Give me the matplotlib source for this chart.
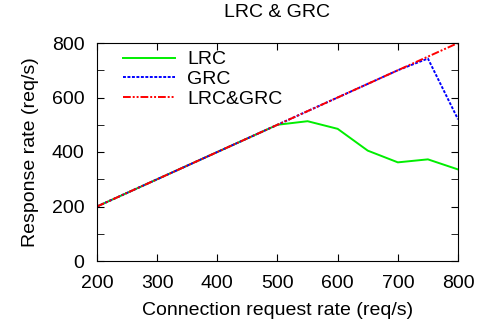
import matplotlib
matplotlib.use('Agg')
import matplotlib.pyplot as plt
from matplotlib.ticker import MultipleLocator

plt.rcParams['font.family'] = ['Liberation Sans', 'DejaVu Sans']

# donnees
taux_demande = [200, 250, 300, 350, 400, 450, 500, 550, 600, 650, 700, 750, 800]
lrc = [200, 250, 300, 350, 400, 450, 500, 513, 485, 405, 362, 373, 336]
grc = [200, 250, 300, 350, 400, 450, 500, 550, 600, 650, 700, 743, 520]
lrc_grc = [200, 250, 300, 350, 400, 450, 500, 550, 600, 650, 700, 750, 800]

fig = plt.figure(figsize=(4.85, 3.28), dpi=100)
ax = fig.add_axes([97 / 485, 67 / 328, 361 / 485, 218 / 328])

ax.plot(taux_demande, lrc, color='#00ee00', linewidth=1.4, label='LRC')
ax.plot(taux_demande, grc, color='#0000ff', linewidth=1.4, linestyle=(0, (1.5, 0.8)), label='GRC')
ax.plot(taux_demande, lrc_grc, color='#ff0000', linewidth=1.4,
        linestyle=(0, (4, 1, 1, 1, 1, 1)), label='LRC&GRC')

ax.set_xlim(200, 800)
ax.set_ylim(0, 800)
ax.xaxis.set_major_locator(MultipleLocator(100))
ax.yaxis.set_major_locator(MultipleLocator(200))
ax.yaxis.set_minor_locator(MultipleLocator(100))
ax.tick_params(which='both', direction='in', top=True, right=True, labelsize=14)
ax.tick_params(which='both', length=5)
ax.tick_params(axis='x', pad=10)
ax.tick_params(axis='y', pad=9)

ax.set_xlabel('Connection request rate (req/s)', fontsize=14, labelpad=7)
ax.set_ylabel('Response rate (req/s)', fontsize=14, labelpad=9)
ax.set_title('LRC & GRC', fontsize=14, pad=19)

ax.legend(loc='upper left', frameon=False, fontsize=14, handlelength=2.7,
          handletextpad=0.6, borderaxespad=0, labelspacing=0.1,
          bbox_to_anchor=(0.05, 1.0))

fig.savefig('out.png', dpi=100)
